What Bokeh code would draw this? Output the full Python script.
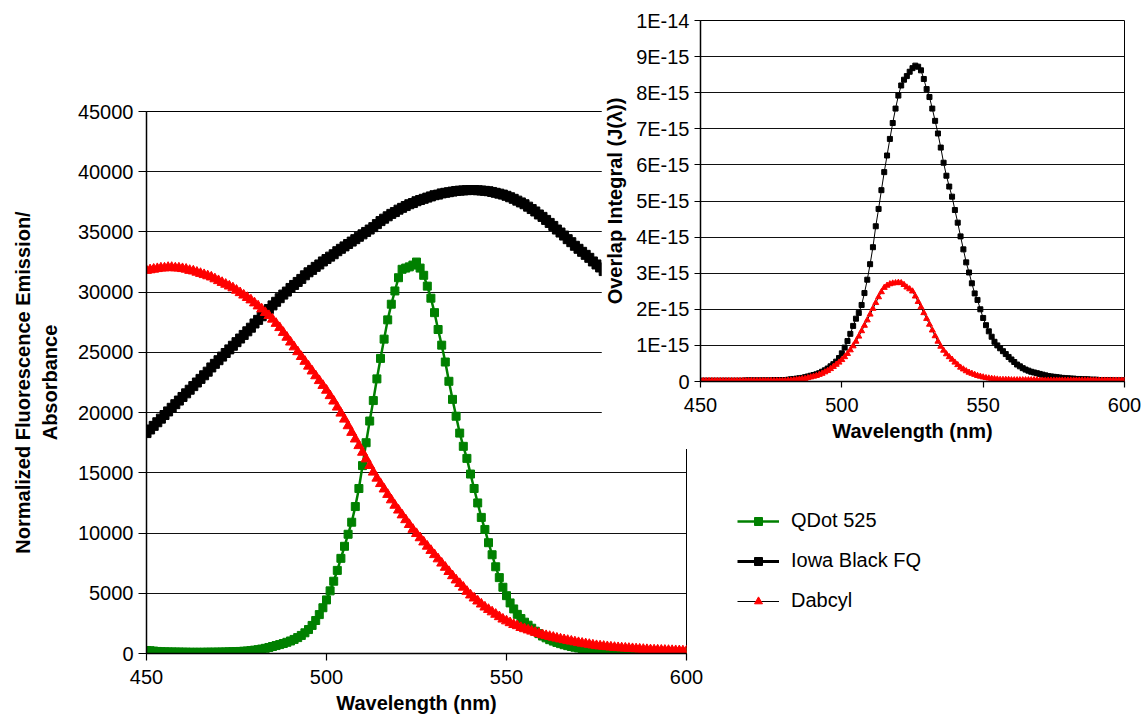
from bokeh.plotting import figure
from bokeh.models import Range1d, FixedTicker, Legend, LegendItem
from bokeh.layouts import row
from bokeh.embed import file_html
from bokeh.resources import INLINE

FONT = "Liberation Sans"

# ---------------- data ----------------
wavelength = list(range(450, 601))  # nm, 1 nm steps

qdot525 = [
    250, 230, 200, 170, 150, 140, 130, 130, 120, 120,
    110, 110, 100, 100, 100, 100, 100, 110, 110, 110,
    120, 120, 130, 140, 150, 160, 170, 190, 210, 240,
    280, 320, 370, 430, 500, 580, 660, 740, 830, 930,
    1040, 1170, 1320, 1500, 1720, 1990, 2330, 2740, 3230, 3800,
    4450, 5200, 6000, 6900, 7900, 8900, 9900, 10900, 12200, 13700,
    15600, 17500, 19300, 21000, 22800, 24500, 26100, 27700, 29000, 30100,
    31200, 31900, 32000, 32100, 32250, 32500, 32000, 31400, 30500, 29500,
    28300, 26900, 25600, 24200, 22600, 21100, 19700, 18300, 17200, 16200,
    14900, 13700, 12500, 11300, 10300, 9200, 8200, 7200, 6300, 5500,
    4800, 4200, 3700, 3250, 2900, 2600, 2350, 2100, 1850, 1650,
    1450, 1300, 1150, 1030, 920, 820, 730, 650, 580, 520,
    460, 410, 370, 330, 300, 280, 260, 240, 220, 210,
    200, 190, 180, 170, 160, 160, 150, 150, 140, 140,
    130, 130, 130, 120, 120, 120, 110, 110, 110, 100,
    100,
]

# Iowa Black FQ absorbance, visible part (450-577 nm)
iowa_wl = list(range(450, 578))
iowa_black = [
    18300, 18600, 18900, 19200, 19500, 19800, 20100, 20400, 20700, 21000,
    21300, 21600, 21900, 22200, 22500, 22800, 23100, 23400, 23750, 24050,
    24350, 24650, 24950, 25250, 25550, 25850, 26150, 26450, 26750, 27050,
    27400, 27700, 28000, 28300, 28600, 28900, 29200, 29500, 29800, 30050,
    30350, 30600, 30850, 31100, 31400, 31650, 31850, 32100, 32300, 32550,
    32750, 32950, 33150, 33400, 33600, 33800, 34000, 34200, 34400, 34600,
    34800, 35000, 35200, 35400, 35650, 35900, 36100, 36300, 36500, 36650,
    36850, 37000, 37150, 37300, 37400, 37550, 37650, 37750, 37850, 37950,
    38050, 38100, 38200, 38250, 38300, 38350, 38400, 38430, 38450, 38470,
    38480, 38480, 38460, 38440, 38410, 38380, 38320, 38250, 38180, 38100,
    38000, 37880, 37750, 37600, 37450, 37300, 37100, 36900, 36700, 36450,
    36250, 36000, 35750, 35500, 35200, 34950, 34700, 34400, 34150, 33850,
    33600, 33350, 33100, 32850, 32550, 32300, 32050, 31750,
]

dabcyl = [
    31800, 31850, 31900, 31950, 32000, 32000, 32050, 32050, 32000, 32000,
    31950, 31900, 31800, 31750, 31650, 31550, 31450, 31350, 31250, 31100,
    30950, 30800, 30650, 30500, 30350, 30150, 29950, 29750, 29550, 29350,
    29100, 28850, 28600, 28300, 28050, 27750, 27400, 27050, 26650, 26250,
    25850, 25450, 25050, 24650, 24250, 23850, 23450, 23050, 22650, 22250,
    21850, 21400, 20950, 20450, 19950, 19450, 18900, 18350, 17800, 17250,
    16700, 16150, 15600, 15050, 14550, 14100, 13650, 13200, 12750, 12300,
    11900, 11500, 11100, 10700, 10300, 9950, 9600, 9250, 8900, 8550,
    8200, 7850, 7500, 7150, 6800, 6450, 6100, 5800, 5500, 5150,
    4850, 4600, 4350, 4100, 3850, 3650, 3450, 3250, 3050, 2850,
    2700, 2550, 2400, 2300, 2150, 2050, 1950, 1850, 1750, 1650,
    1550, 1480, 1410, 1340, 1270, 1200, 1140, 1080, 1020, 960,
    900, 850, 800, 750, 700, 650, 620, 590, 560, 530,
    500, 480, 460, 440, 420, 400, 380, 360, 340, 320,
    300, 290, 280, 270, 260, 250, 240, 230, 220, 210,
    200,
]

# Overlap integrals J(lambda), in units of 1E-15
overlap_iowa = [
    0.02, 0.02, 0.02, 0.02, 0.02, 0.02, 0.02, 0.02, 0.02, 0.02,
    0.02, 0.02, 0.02, 0.02, 0.02, 0.02, 0.03, 0.03, 0.03, 0.03,
    0.03, 0.03, 0.03, 0.03, 0.03, 0.03, 0.04, 0.04, 0.04, 0.04,
    0.04, 0.05, 0.06, 0.07, 0.08, 0.09, 0.10, 0.12, 0.14, 0.16,
    0.18, 0.20, 0.23, 0.27, 0.31, 0.36, 0.42, 0.48, 0.55, 0.65,
    0.78, 0.94, 1.12, 1.32, 1.54, 1.74, 1.90, 2.12, 2.45, 2.82,
    3.25, 3.72, 4.30, 4.78, 5.30, 5.80, 6.26, 6.72, 7.16, 7.56,
    7.92, 8.20, 8.36, 8.46, 8.58, 8.68, 8.75, 8.72, 8.62, 8.38,
    8.10, 7.88, 7.56, 7.22, 6.87, 6.48, 6.06, 5.70, 5.40, 5.12,
    4.75, 4.40, 4.02, 3.66, 3.30, 3.02, 2.72, 2.44, 2.26, 2.00,
    1.76, 1.56, 1.39, 1.24, 1.10, 1.00, 0.92, 0.84, 0.76, 0.68,
    0.61, 0.54, 0.47, 0.42, 0.37, 0.33, 0.30, 0.27, 0.25, 0.23,
    0.21, 0.19, 0.17, 0.15, 0.14, 0.13, 0.12, 0.11, 0.10, 0.09,
    0.09, 0.08, 0.08, 0.07, 0.07, 0.06, 0.06, 0.06, 0.05, 0.05,
    0.05, 0.04, 0.04, 0.04, 0.04, 0.04, 0.03, 0.03, 0.03, 0.03,
    0.03,
]

overlap_dabcyl = [
    0.02, 0.02, 0.02, 0.02, 0.02, 0.02, 0.02, 0.02, 0.02, 0.02,
    0.02, 0.02, 0.02, 0.02, 0.02, 0.02, 0.02, 0.02, 0.02, 0.02,
    0.02, 0.02, 0.02, 0.02, 0.02, 0.02, 0.02, 0.02, 0.02, 0.02,
    0.02, 0.03, 0.03, 0.04, 0.05, 0.06, 0.07, 0.08, 0.10, 0.12,
    0.14, 0.16, 0.19, 0.22, 0.26, 0.30, 0.35, 0.41, 0.47, 0.53,
    0.60, 0.68, 0.77, 0.87, 0.98, 1.11, 1.25, 1.40, 1.55, 1.70,
    1.86, 2.02, 2.18, 2.34, 2.48, 2.60, 2.66, 2.70, 2.72, 2.73,
    2.74, 2.73, 2.68, 2.61, 2.56, 2.50, 2.36, 2.21, 2.06, 1.90,
    1.74, 1.58, 1.42, 1.26, 1.11, 0.97, 0.86, 0.76, 0.68, 0.61,
    0.53, 0.46, 0.39, 0.34, 0.29, 0.25, 0.22, 0.19, 0.16, 0.14,
    0.12, 0.10, 0.09, 0.08, 0.07, 0.06, 0.05, 0.05, 0.05, 0.05,
    0.04, 0.04, 0.04, 0.04, 0.04, 0.04, 0.04, 0.04, 0.04, 0.04,
    0.03, 0.03, 0.03, 0.03, 0.03, 0.03, 0.03, 0.03, 0.03, 0.03,
    0.03, 0.03, 0.03, 0.03, 0.03, 0.03, 0.03, 0.03, 0.03, 0.03,
    0.03, 0.03, 0.03, 0.03, 0.03, 0.03, 0.03, 0.03, 0.03, 0.03,
    0.03,
]

x_ticks = [450, 500, 550, 600]
main_y_ticks = [0, 5000, 10000, 15000, 20000, 25000, 30000, 35000, 40000, 45000]
inset_y_ticks = [0, 1, 2, 3, 4, 5, 6, 7, 8, 9, 10]
inset_y_labels = ["0", "1E-15", "2E-15", "3E-15", "4E-15", "5E-15",
                  "6E-15", "7E-15", "8E-15", "9E-15", "1E-14"]
series_names = ["QDot 525", "Iowa Black FQ", "Dabcyl"]

GREEN = "#008000"
RED = "#ff0000"

main_series = [(wavelength, qdot525), (iowa_wl, iowa_black), (wavelength, dabcyl)]
# series styles: (line colour, line width, marker, marker colour, marker size)
main_styles = [
    (GREEN, 2.5, "square", GREEN, 8),
    ("black", 3, "square", "black", 9),
    ("black", 1, "triangle", RED, 10),
]


def style_axes(p, xlabel, ylabel):
    p.xgrid.visible = False
    p.ygrid.grid_line_color = "#111111"
    p.ygrid.grid_line_width = 1.2
    p.outline_line_color = "black"
    p.outline_line_width = 1
    for ax in (p.xaxis[0], p.yaxis[0]):
        ax.axis_line_color = "black"
        ax.axis_line_width = 1.5
        ax.major_tick_line_color = "black"
        ax.major_tick_line_width = 1.2
        ax.minor_tick_line_color = None
        ax.major_tick_in = 0
        ax.major_label_text_font = FONT
        ax.major_label_text_font_size = "20px"
        ax.major_label_text_color = "black"
        ax.axis_label_text_font = FONT
        ax.axis_label_text_font_size = "20px"
        ax.axis_label_text_font_style = "bold"
        ax.axis_label_text_color = "black"
    p.xaxis.axis_label = xlabel
    p.yaxis.axis_label = ylabel
    p.xaxis.ticker = FixedTicker(ticks=x_ticks)


# All figures sit in one row, so Bokeh gives them the same top/bottom
# borders (111 / 68); they are overlapped with negative margins.

# ---------------- main chart ----------------
main = figure(width=1143, height=721,
              x_range=Range1d(450, 600), y_range=Range1d(0, 45000),
              output_backend="svg", toolbar_location=None,
              min_border_left=146, min_border_right=457,
              min_border_top=111, min_border_bottom=68,
              background_fill_color="white", border_fill_color="white")
style_axes(main, "Wavelength (nm)",
           "Normalized Fluorescence Emission/\nAbsorbance")
main.yaxis.ticker = FixedTicker(ticks=main_y_ticks)
main.yaxis.major_tick_out = 8
main.yaxis.major_label_standoff = 5
main.yaxis.axis_label_standoff = 14
main.xaxis.major_tick_out = 7
main.xaxis.major_label_standoff = 9
main.xaxis.axis_label_standoff = 5

for (xs, ys), (lc, lw, mk, mc, ms) in zip(main_series, main_styles):
    main.line(xs, ys, line_color=lc, line_width=lw)
    main.scatter(xs, ys, marker=mk, size=ms, fill_color=mc, line_color=mc)

# ---------------- legend (own transparent figure) ----------------
# The same series are drawn here only to feed the legend; the ranges of
# this figure keep the curves themselves outside its (empty) frame.
lf = figure(width=300, height=721,
            x_range=Range1d(0, 1), y_range=Range1d(0, 1),
            x_axis_location=None, y_axis_location=None,
            output_backend="svg", toolbar_location=None,
            min_border_left=0, min_border_right=0,
            min_border_top=111, min_border_bottom=68,
            background_fill_alpha=0, border_fill_alpha=0,
            outline_line_color=None, margin=(0, 0, 0, -443))
lf.grid.visible = False
items = []
for name, (xs, ys), (lc, lw, mk, mc, ms) in zip(series_names, main_series, main_styles):
    r1 = lf.line(xs, ys, line_color=lc, line_width=lw)
    r2 = lf.scatter(xs, ys, marker=mk, size=ms - 1, fill_color=mc, line_color=mc)
    items.append(LegendItem(label=name, renderers=[r1, r2]))
legend = Legend(items=items, location=(37, 41))
legend.padding = 0
legend.margin = 0
legend.border_line_color = None
legend.background_fill_alpha = 0
legend.glyph_width = 42
legend.glyph_height = 20
legend.label_height = 20
legend.label_standoff = 12
legend.spacing = 17
legend.label_text_font = FONT
legend.label_text_font_size = "20px"
legend.label_text_color = "black"
lf.add_layout(legend, "center")

# ---------------- inset chart ----------------
inset = figure(width=542, height=540,
               x_range=Range1d(450, 600), y_range=Range1d(0, 10),
               output_backend="svg", toolbar_location=None,
               min_border_left=97, min_border_right=19,
               min_border_top=111, min_border_bottom=68,
               background_fill_color="white", border_fill_color="white",
               margin=(-91, 0, 0, -399))
style_axes(inset, "Wavelength (nm)", "Overlap Integral (J(λ))")
inset.yaxis.ticker = FixedTicker(ticks=inset_y_ticks)
inset.yaxis.major_label_overrides = {t: s for t, s in zip(inset_y_ticks, inset_y_labels)}
inset.yaxis.major_tick_out = 6
inset.yaxis.major_label_standoff = 5
inset.yaxis.axis_label_standoff = 7
inset.xaxis.major_tick_out = 6
inset.xaxis.major_label_standoff = 10
inset.xaxis.axis_label_standoff = 5

inset.line(wavelength, overlap_iowa, line_color="black", line_width=1)
inset.scatter(wavelength, overlap_iowa, marker="square", size=5,
              fill_color="black", line_color="black")
inset.line(wavelength, overlap_dabcyl, line_color="black", line_width=1)
inset.scatter(wavelength, overlap_dabcyl, marker="triangle", size=6,
              fill_color=RED, line_color=RED)

layout = row(main, lf, inset)
open("out.html", "w").write(file_html(layout, INLINE))
